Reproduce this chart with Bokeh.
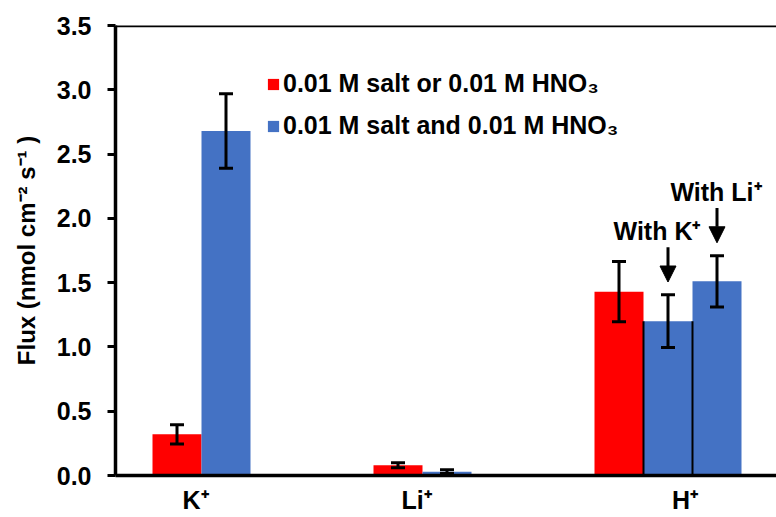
from bokeh.plotting import figure
from bokeh.models import (Range1d, FixedTicker, ColumnDataSource, Whisker, TeeHead,
                          Arrow, NormalHead, Span, Legend, LegendItem,
                          CustomJSTickFormatter, NumeralTickFormatter)
from bokeh.core.properties import value
from bokeh.embed import file_html
from bokeh.resources import INLINE

# ---------------- data ----------------
categories = ["K\u207a", "Li\u207a", "H\u207a"]

red_label = "0.01 M salt or 0.01 M HNO\u2083"
red_cats = ["K\u207a", "Li\u207a", "H\u207a"]
red_vals = [0.32, 0.08, 1.43]
red_errs = [0.075, 0.02, 0.235]

blue_label = "0.01 M salt and 0.01 M HNO\u2083"
blue_cats = ["K\u207a", "Li\u207a", "H\u207a", "H\u207a"]
blue_vals = [2.68, 0.03, 1.20, 1.51]
blue_errs = [0.29, 0.015, 0.205, 0.20]
blue_notes = ["", "", "With K\u207a", "With Li\u207a"]

y_ticks = [0.0, 0.5, 1.0, 1.5, 2.0, 2.5, 3.0, 3.5]

# ---------------- layout helpers ----------------
FONT = "Liberation Sans"
PX = 1 / 221.0          # one pixel in category units
BW = 49 * PX            # bar width in category units
RED = "#FF0000"
BLUE = "#4472C4"

red_slot = [0, 0, 0]
blue_slot = [1, 1, 1, 2]
label_nudge_px = [-6, -6, 17]   # small horizontal nudges of the category labels

def xpos(cat, slot):
    return categories.index(cat) + (slot - 1) * BW

red_x = [xpos(c, s) for c, s in zip(red_cats, red_slot)]
blue_x = [xpos(c, s) for c, s in zip(blue_cats, blue_slot)]

# category tick at centre of its drawn bars
tick_pos = []
for k, c in enumerate(categories):
    xs = [x for x, cc in zip(red_x, red_cats) if cc == c] + [x for x, cc in zip(blue_x, blue_cats) if cc == c]
    tick_pos.append(sum(xs) / len(xs) + label_nudge_px[k] * PX)

p = figure(width=776, height=517, output_backend="svg", toolbar_location=None,
           x_range=Range1d(-0.5, -0.5 + 661 * PX), y_range=Range1d(0, 3.5),
           min_border_left=115, min_border_right=0, min_border_top=25, min_border_bottom=42)
p.outline_line_color = None
p.xgrid.visible = False
p.ygrid.visible = False
p.background_fill_color = "white"
p.border_fill_color = "white"

red_src = ColumnDataSource(dict(x=red_x, top=red_vals,
                                upper=[v + e for v, e in zip(red_vals, red_errs)],
                                lower=[v - e for v, e in zip(red_vals, red_errs)]))
blue_src = ColumnDataSource(dict(x=blue_x, top=blue_vals,
                                 upper=[v + e for v, e in zip(blue_vals, blue_errs)],
                                 lower=[v - e for v, e in zip(blue_vals, blue_errs)]))

r_red = p.vbar(x="x", top="top", width=BW, bottom=0, source=red_src,
               fill_color=RED, line_color=None)
r_blue = p.vbar(x="x", top="top", width=BW, bottom=0, source=blue_src,
                fill_color=BLUE, line_color=None)

# thin black edges of the "With K+" bar
ek = [i for i, n in enumerate(blue_notes) if n.startswith("With K")]
edge_x = []
edge_top = []
for i in ek:
    edge_x += [blue_x[i] - BW / 2, blue_x[i] + BW / 2]
    edge_top += [blue_vals[i], blue_vals[i]]
p.segment(x0=edge_x, y0=[0] * len(edge_x), x1=edge_x, y1=edge_top,
          line_color="black", line_width=2)

for src in (red_src, blue_src):
    w = Whisker(source=src, base="x", upper="upper", lower="lower",
                line_color="black", line_width=3, level="annotation",
                upper_head=TeeHead(size=14, line_width=3, line_color="black"),
                lower_head=TeeHead(size=14, line_width=3, line_color="black"))
    p.add_layout(w)

# annotations with arrows
note_idx = [i for i, n in enumerate(blue_notes) if n]
note_dx = {"With K\u207a": -11, "With Li\u207a": -1}
ax, ay0, ay1, tx, ty, tt, toff = [], [], [], [], [], [], []
for i in note_idx:
    tip = blue_vals[i] + blue_errs[i] + 0.10
    start = tip + 0.27
    ax.append(blue_x[i]); ay1.append(tip); ay0.append(start)
    tx.append(blue_x[i]); ty.append(start + 0.125); tt.append(blue_notes[i])
    toff.append(note_dx[blue_notes[i]])
arr_src = ColumnDataSource(dict(x0=ax, y0=ay0, x1=ax, y1=ay1))
p.add_layout(Arrow(source=arr_src, x_start="x0", y_start="y0", x_end="x1", y_end="y1",
                   line_color="black", line_width=3,
                   end=NormalHead(size=16, fill_color="black", line_color="black", line_width=1)))
p.text(x=tx, y=ty, text=tt, x_offset=toff, text_align="center", text_baseline="middle",
       text_font=value(FONT), text_font_style="bold", text_font_size="25px", text_color="black")

# top frame line
p.add_layout(Span(location=3.5, dimension="width", line_color="black", line_width=3.5))

# axes
yax = p.yaxis[0]
yax.ticker = FixedTicker(ticks=y_ticks)
yax.formatter = NumeralTickFormatter(format="0.0")
yax.axis_label = "Flux (nmol cm\u207b\u00b2 s\u207b\u00b9 )"
yax.axis_label_text_font = FONT
yax.axis_label_text_font_style = "bold"
yax.axis_label_text_font_size = "24px"
yax.axis_label_text_color = "black"
yax.axis_label_standoff = 14
yax.major_label_text_font = FONT
yax.major_label_text_font_style = "bold"
yax.major_label_text_font_size = "25px"
yax.major_label_text_color = "black"
yax.major_label_standoff = 16
yax.major_tick_out = 8
yax.major_tick_in = 0
yax.major_tick_line_width = 3
yax.major_tick_line_color = "black"
yax.minor_tick_line_color = None
yax.axis_line_width = 3.5
yax.axis_line_color = "black"

xax = p.xaxis[0]
xax.ticker = FixedTicker(ticks=tick_pos)
xax.formatter = CustomJSTickFormatter(args=dict(labels=categories), code="return labels[index]")
xax.major_label_text_font = FONT
xax.major_label_text_font_style = "bold"
xax.major_label_text_font_size = "25px"
xax.major_label_text_color = "black"
xax.major_label_standoff = 10
xax.major_tick_out = 0
xax.major_tick_in = 0
xax.minor_tick_line_color = None
xax.axis_line_width = 3.5
xax.axis_line_color = "black"

legend = Legend(items=[LegendItem(label=red_label, renderers=[r_red]),
                       LegendItem(label=blue_label, renderers=[r_blue])],
                location=(151, 335), padding=0, margin=0, spacing=13,
                glyph_width=14, glyph_height=14, label_standoff=3,
                label_text_font=FONT, label_text_font_style="bold",
                label_text_font_size="25px", label_text_color="black",
                border_line_color=None, background_fill_alpha=0)
p.add_layout(legend)

open("out.html", "w").write(file_html(p, INLINE))
